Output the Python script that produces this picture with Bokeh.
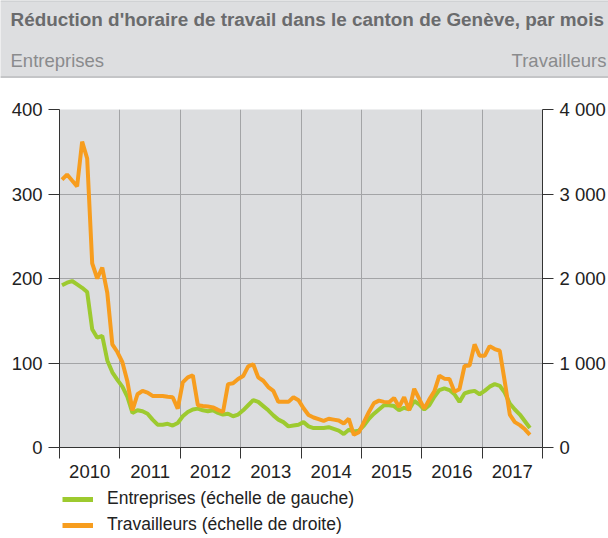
from bokeh.plotting import figure
from bokeh.layouts import column, row
from bokeh.models import (Range1d, LinearAxis, FixedTicker, Legend, LegendItem,
                          Label, Span, ColumnDataSource)
from bokeh.embed import file_html
from bokeh.resources import INLINE

# ---- data (monthly, Jan 2010 .. Oct 2017) ----
years = [2010, 2011, 2012, 2013, 2014, 2015, 2016, 2017]
months = [f"{y}-{m:02d}" for y in years for m in range(1, 13)][:94]

entreprises = [
    192, 195, 197, 193, 189, 184, 140, 130, 132, 103, 89, 80,     # 2010
    72, 60, 41, 44, 43, 40, 33, 27, 27, 28, 26, 29,               # 2011
    37, 42, 45, 46, 44, 43, 44, 41, 39, 40, 37, 39,               # 2012
    44, 50, 56, 54, 49, 44, 38, 33, 30, 25, 26, 27,               # 2013
    30, 25, 23, 23, 23, 24, 22, 20, 16, 21, 19, 20,               # 2014
    26, 34, 40, 45, 50, 50, 49, 44, 47, 45, 55, 51,               # 2015
    45, 50, 60, 68, 70, 68, 63, 54, 64, 66, 67, 63,               # 2016
    67, 72, 75, 73, 65, 52, 45, 39, 31, 23,                       # 2017
]
travailleurs = [
    3170, 3230, 3160, 3090, 3620, 3420, 2180, 2000, 2130, 1830, 1220, 1130,  # 2010
    1010, 780, 440, 630, 670, 650, 610, 610, 610, 600, 595, 460,             # 2011
    770, 830, 855, 500, 490, 485, 475, 445, 420, 750, 760, 810,              # 2012
    845, 960, 985, 830, 790, 715, 670, 540, 540, 540, 595, 560,              # 2013
    465, 385, 355, 335, 315, 340, 330, 320, 285, 340, 150, 180,              # 2014
    300, 420, 525, 555, 540, 535, 585, 480, 595, 440, 695, 575,              # 2015
    460, 570, 665, 850, 815, 812, 660, 690, 965, 970, 1220, 1085,            # 2016
    1085, 1200, 1165, 1145, 780, 390, 300, 265, 215, 150,                    # 2017
]

left_ticks = [0, 100, 200, 300, 400]
right_ticks = [0, 1000, 2000, 3000, 4000]
right_labels = ["0", "1 000", "2 000", "3 000", "4 000"]

title_text = "Réduction d'horaire de travail dans le canton de Genève, par mois"
left_title = "Entreprises"
right_title = "Travailleurs"
legend_labels = ["Entreprises (échelle de gauche)", "Travailleurs (échelle de droite)"]

# ---- styles ----
FONT = "Liberation Sans"
GREEN = "#9dca2f"
ORANGE = "#f79d1e"
BG = "#dcdddf"
BAND = "#dddee0"
GRID = "#a3a4a6"
AXIS = "#333333"
W = 608
TICK_FS = "18.5px"

# ---- header band (its own small figure) ----
HEAD_H = 78
head = figure(width=W, height=HEAD_H, output_backend="svg", toolbar_location=None,
              x_range=Range1d(0, W), y_range=Range1d(HEAD_H, 0),
              x_axis_type=None, y_axis_type=None, min_border=0,
              background_fill_color=BAND, border_fill_color=BAND,
              outline_line_color=None)
head.grid.visible = False
head.add_layout(Span(location=0.5, dimension="width", line_color="#c4c5c7", line_width=1))
head.add_layout(Span(location=76.5, dimension="width", line_color="#c4c5c7", line_width=2))
head.add_layout(Label(x=10, y=19, text=title_text, text_baseline="middle",
                      text_font=FONT, text_font_style="bold", text_font_size="18.9px",
                      text_color="#6a6b6d"))
head.add_layout(Label(x=10, y=60, text=left_title, text_baseline="middle",
                      text_font=FONT, text_font_size="18.5px", text_color="#8a8b8d"))
head.add_layout(Label(x=W - 2, y=60, text=right_title, text_baseline="middle",
                      text_align="right", text_font=FONT, text_font_size="18.5px",
                      text_color="#8a8b8d"))

# ---- main chart ----
MAIN_H = 402
xpos = [int(s[:4]) + (int(s[5:]) - 0.5) / 12 for s in months]
src = ColumnDataSource(dict(x=xpos, e=entreprises, t=travailleurs))

p = figure(width=W, height=MAIN_H, output_backend="svg", toolbar_location=None,
           x_range=Range1d(years[0], years[-1] + 1), y_range=Range1d(0, 400),
           min_border_left=59, min_border_right=65, min_border_top=31,
           min_border_bottom=MAIN_H - 31 - 340, background_fill_color=BG,
           border_fill_color="white", outline_line_color=None)
p.extra_y_ranges = {"right": Range1d(0, 4000)}

g = p.line("x", "e", source=src, color=GREEN, line_width=4)
o = p.line("x", "t", source=src, color=ORANGE, line_width=4, y_range_name="right")

xa = p.xaxis[0]
xa.ticker = FixedTicker(ticks=[y + 0.5 for y in years],
                        minor_ticks=years + [years[-1] + 1])
xa.major_label_overrides = {y + 0.5: str(y) for y in years}
xa.major_tick_out = 0
xa.major_tick_in = 0
xa.minor_tick_out = 11
xa.minor_tick_in = 0
xa.minor_tick_line_color = AXIS
xa.axis_line_color = AXIS
xa.major_label_standoff = 6
xa.major_label_text_font = FONT
xa.major_label_text_font_size = TICK_FS
xa.major_label_text_color = "#222222"

def style_y(ax):
    ax.major_tick_out = 11
    ax.major_tick_in = 0
    ax.minor_tick_out = 0
    ax.minor_tick_in = 0
    ax.axis_line_color = AXIS
    ax.major_tick_line_color = AXIS
    ax.major_label_standoff = 6
    ax.major_label_text_font = FONT
    ax.major_label_text_font_size = TICK_FS
    ax.major_label_text_color = "#222222"

ya = p.yaxis[0]
ya.ticker = FixedTicker(ticks=left_ticks)
style_y(ya)

ra = LinearAxis(y_range_name="right", ticker=FixedTicker(ticks=right_ticks))
ra.major_label_overrides = dict(zip(right_ticks, right_labels))
style_y(ra)
p.add_layout(ra, "right")

p.xgrid.ticker = FixedTicker(ticks=years[1:])
p.ygrid.ticker = FixedTicker(ticks=left_ticks[1:])
p.xgrid.grid_line_color = GRID
p.ygrid.grid_line_color = GRID

# ---- legend (own strip below the chart) ----
LEG_H = 538 - HEAD_H - MAIN_H
leg = figure(width=W, height=LEG_H, output_backend="svg", toolbar_location=None,
             x_range=Range1d(0, 1), y_range=Range1d(0, 1),
             x_axis_type=None, y_axis_type=None, min_border=0,
             background_fill_color="white", border_fill_color="white",
             outline_line_color=None)
leg.grid.visible = False
# same series, outside this strip's ranges: only their legend glyphs show
lg = leg.line("x", "e", source=src, color=GREEN, line_width=5)
lo = leg.line("x", "t", source=src, color=ORANGE, line_width=5)
legend = Legend(items=[LegendItem(label=legend_labels[0], renderers=[lg]),
                       LegendItem(label=legend_labels[1], renderers=[lo])],
                location=(62, 3), orientation="vertical",
                label_text_font=FONT, label_text_font_size="17.5px",
                label_text_color="#222222", glyph_width=31, glyph_height=20,
                label_height=20, spacing=5, padding=0, margin=0,
                label_standoff=14, background_fill_alpha=0,
                border_line_color=None)
leg.add_layout(legend, "center")

layout = column(row(head), p, row(leg), spacing=0)
open("out.html", "w").write(file_html(layout, INLINE))
